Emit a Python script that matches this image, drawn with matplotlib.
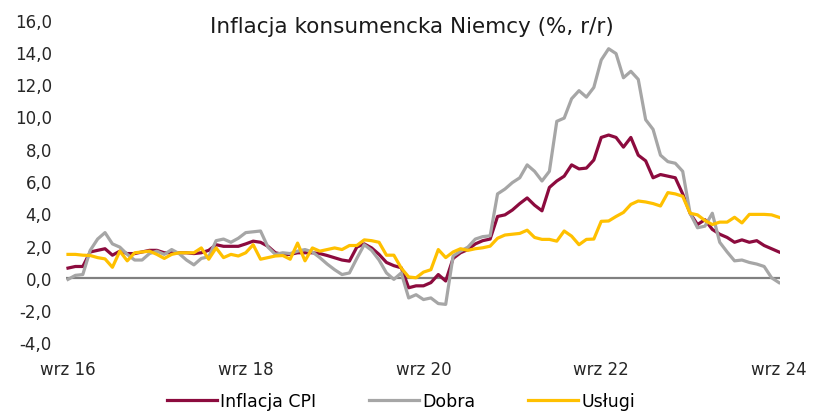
import matplotlib
matplotlib.use("Agg")
import matplotlib.pyplot as plt
from matplotlib.ticker import FuncFormatter, MultipleLocator

# Miesiące od wrz 2016 do wrz 2024 (97 obserwacji)
etykiety_osi = ["wrz 16", "wrz 18", "wrz 20", "wrz 22", "wrz 24"]
pozycje_etykiet = [0, 24, 48, 72, 96]

inflacja_cpi = [
    0.6, 0.7, 0.7, 1.6, 1.7, 1.8, 1.4, 1.65, 1.5, 1.5, 1.6, 1.7,
    1.7, 1.55, 1.55, 1.55, 1.55, 1.5, 1.55, 1.7, 2.05, 1.95, 1.95, 1.95,
    2.1, 2.27, 2.2, 1.95, 1.55, 1.45, 1.45, 1.55, 1.55, 1.55, 1.5, 1.38,
    1.24, 1.1, 1.03, 1.9, 2.1, 1.85, 1.45, 0.95, 0.75, 0.62, -0.62, -0.5,
    -0.5, -0.3, 0.2, -0.2, 1.2, 1.55, 1.75, 2.1, 2.3, 2.4, 3.8, 3.9,
    4.2, 4.6, 4.95, 4.5, 4.15, 5.6, 6.0, 6.3, 7.0, 6.75, 6.8, 7.3,
    8.7, 8.85, 8.7, 8.1, 8.7, 7.6, 7.25, 6.2, 6.4, 6.3, 6.2, 5.2,
    4.0, 3.3, 3.6, 3.0, 2.7, 2.5, 2.2, 2.35, 2.2, 2.3, 2.0, 1.8,
    1.6,
]

dobra = [
    -0.1, 0.15, 0.2, 1.7, 2.4, 2.8, 2.1, 1.9, 1.45, 1.1, 1.1, 1.5,
    1.65, 1.45, 1.75, 1.5, 1.1, 0.8, 1.2, 1.3, 2.3, 2.4, 2.2, 2.45,
    2.8, 2.85, 2.9, 1.9, 1.45, 1.55, 1.5, 1.65, 1.75, 1.6, 1.25, 0.85,
    0.5, 0.2, 0.3, 1.2, 2.05, 1.7, 1.1, 0.3, -0.1, 0.3, -1.25, -1.05,
    -1.35, -1.25, -1.6, -1.65, 1.35, 1.65, 1.9, 2.4, 2.55, 2.6, 5.2, 5.5,
    5.9, 6.2, 7.0, 6.6, 6.0, 6.6, 9.7, 9.9, 11.1, 11.6, 11.2, 11.8,
    13.5, 14.2, 13.9, 12.4, 12.8, 12.3, 9.8, 9.2, 7.6, 7.2, 7.1, 6.6,
    4.0, 3.1, 3.2, 4.0, 2.2, 1.6, 1.05, 1.1, 0.95, 0.85, 0.7, 0.0,
    -0.3,
]

uslugi = [
    1.45, 1.45, 1.4, 1.38, 1.25, 1.17, 0.65, 1.65, 1.05, 1.55, 1.6, 1.65,
    1.45, 1.2, 1.45, 1.55, 1.55, 1.55, 1.85, 1.15, 1.85, 1.25, 1.45, 1.35,
    1.55, 2.05, 1.15, 1.25, 1.35, 1.38, 1.15, 2.15, 1.05, 1.85, 1.65, 1.75,
    1.85, 1.75, 2.0, 2.0, 2.35, 2.3, 2.2, 1.4, 1.4, 0.6, 0.05, 0.0,
    0.35, 0.5, 1.75, 1.25, 1.6, 1.8, 1.7, 1.8, 1.86, 1.96, 2.45, 2.65,
    2.7, 2.75, 2.95, 2.5, 2.38, 2.38, 2.27, 2.9, 2.58, 2.05, 2.38, 2.4,
    3.5, 3.52, 3.8, 4.05, 4.55, 4.76, 4.7, 4.6, 4.45, 5.28, 5.2, 5.05,
    4.0, 3.9, 3.55, 3.3, 3.45, 3.45, 3.75, 3.4, 3.93, 3.93, 3.93, 3.9,
    3.75,
]

KOLOR_CPI = "#8C0B3E"
KOLOR_DOBRA = "#A6A6A6"
KOLOR_USLUGI = "#FFC000"

plt.rcParams["font.family"] = ["DejaVu Sans"]

fig = plt.figure(figsize=(8.18, 4.14), dpi=100)
ax = fig.add_axes([0.0804, 0.1708, 0.8737, 0.7792])

miesiace = list(range(len(inflacja_cpi)))
ax.axhline(0, color="#808080", lw=1.6, zorder=1)
ax.plot(miesiace, inflacja_cpi, color=KOLOR_CPI, lw=2.3, label="Inflacja CPI", zorder=2)
ax.plot(miesiace, dobra, color=KOLOR_DOBRA, lw=2.3, label="Dobra", zorder=3)
ax.plot(miesiace, uslugi, color=KOLOR_USLUGI, lw=2.3, label="Usługi", zorder=4)

ax.set_xlim(-0.3, 96.2)
ax.set_ylim(-4, 16)
ax.yaxis.set_major_locator(MultipleLocator(2))
ax.yaxis.set_major_formatter(FuncFormatter(lambda v, p: f"{v:.1f}".replace(".", ",")))
ax.set_xticks(pozycje_etykiet)
ax.set_xticklabels(etykiety_osi)
ax.tick_params(axis="both", length=0, labelsize=12, colors="#262626")
ax.tick_params(axis="x", pad=13)
ax.tick_params(axis="y", pad=10)
for s in ax.spines.values():
    s.set_visible(False)

fig.text(0.504, 0.935, "Inflacja konsumencka Niemcy (%, r/r)", ha="center", va="center",
         fontsize=15.5, color="#1a1a1a")

# legenda w reference jest ucięta u dołu - tu przesunięta minimalnie w górę, żeby była cała
fig.legend(loc="center", bbox_to_anchor=(0.49, 0.03), ncol=3, frameon=False,
           fontsize=12.5, handlelength=2.9, handletextpad=0.2, columnspacing=3.0,
           borderpad=0.1)

fig.savefig("out.png", dpi=100)
